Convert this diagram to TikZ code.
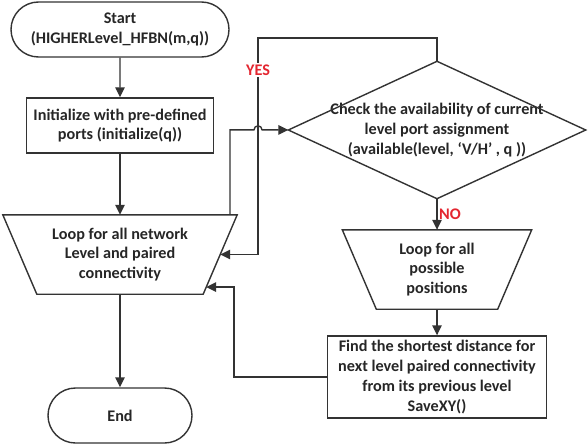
\documentclass[tikz,border=0pt]{standalone}
\usepackage{fontspec}
\setmainfont{Carlito}
\usetikzlibrary{shapes.misc,arrows.meta,calc}
\definecolor{labelred}{RGB}{228,38,48}
\newcommand\flowfont{\fontsize{16.2}{19.8}\selectfont\bfseries}

\begin{document}
\begin{tikzpicture}[x=1pt,y=-1pt,
	line_style/.style={draw=black!80,line width=1.4pt},
	term_node/.style={rounded rectangle,line_style,font=\flowfont,text=black!85,align=center,inner sep=1pt},
	proc_node/.style={rectangle,line_style,font=\flowfont,text=black!85,align=center,inner sep=1pt},
	text_node/.style={rectangle,font=\flowfont,text=black!85,align=center,inner sep=0pt},
	arr/.style={line_style,-{Triangle[length=10pt,width=9.5pt]}},
	lbl_node/.style={text=labelred,font=\flowfont,inner sep=1.5pt}]
	
	\fill[white] (0,0) rectangle (588,444);
	\useasboundingbox (0,0) rectangle (588,444);
	
	\node[term_node,minimum width=220,minimum height=55] (start) at (120,29.5) {Start\\(HIGHERLevel\_HFBN(m,q))};
	\node[proc_node,minimum width=187,minimum height=55] (init) at (120,125.5) {Initialize with pre-defined\\ports (initialize(q))};
	\node[text_node,minimum width=234,minimum height=79] (loopnet) at (120,254.5) {Loop for all network\\Level and paired\\connectivity};
	\node[term_node,minimum width=146,minimum height=55] (end) at (120,415.5) {End};
	
	\node[text_node,minimum width=297,minimum height=137] (check) at (437,130) {Check the availability of current\\level port assignment\\(available(level, ‘V/H’ , q ))};
	\node[text_node,minimum width=189,minimum height=79] (looppos) at (437,269.5) {Loop for all\\possible\\positions};
	\node[proc_node,minimum width=219,minimum height=82] (find) at (437,377) {Find the shortest distance for\\next level paired connectivity\\from its previous level\\SaveXY()};
	
	% outlines of the loop and check shapes
	\draw[line_style] (loopnet.north west) -- (loopnet.north east) -- ($(loopnet.south east)+(-34,0)$) -- ($(loopnet.south west)+(34,0)$) -- cycle;
	\draw[line_style] (looppos.north west) -- (looppos.north east) -- ($(looppos.south east)+(-34,0)$) -- ($(looppos.south west)+(34,0)$) -- cycle;
	\draw[line_style] (check.north) -- (check.east) -- (check.south) -- (check.west) -- cycle;
	
	\coordinate (yestop) at (258,38);
	\coordinate (hopstart) at ($(loopnet.north)+(110,0)$);
	\coordinate (loopin) at ($(loopnet.north east)!0.5!(loopnet.south east)+(-17,0)$);
	\coordinate (loopback) at ($(loopnet.north east)!0.91!(loopnet.south east)+(-31,0)$);
	
	\draw[arr] (start) -- (init);
	\draw[arr] (init) -- (loopnet);
	\draw[arr] (loopnet) -- (end);
	\draw[arr] (check) -- node[lbl_node,right] (no) {NO} (looppos);
	\draw[arr] (looppos) -- (find);
	
	% yes branch back to the outer loop
	\draw[arr] (check.north) |- (yestop) |- (loopin);
	\node[lbl_node,fill=white] (yes) at (258,70) {YES};
	% loop body into the check, hopping over the yes line
	\draw[arr] (hopstart) -- ++(0,-85) -- ++(24,0) arc[start angle=180,end angle=360,radius=4] -- (check.west);
	% feedback from the search
	\draw[arr] (find.west) -- ++(-93,0) |- (loopback);
\end{tikzpicture}
\end{document}
